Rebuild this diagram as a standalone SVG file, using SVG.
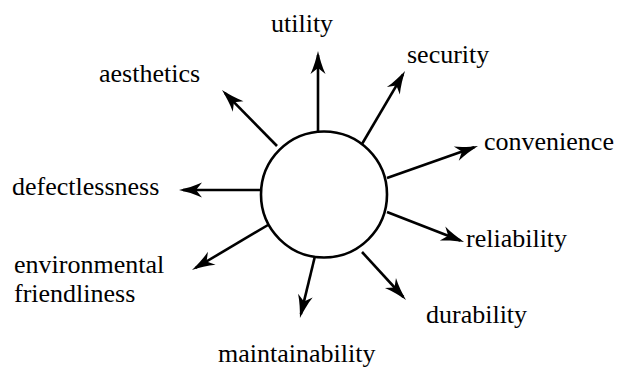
<svg xmlns="http://www.w3.org/2000/svg" width="618" height="367" viewBox="0 0 618 367">
<style>
.lbl{font-family:"Liberation Serif","Times New Roman",serif;font-size:26px;fill:#000}
</style>
<defs>
<marker id="ah" markerUnits="userSpaceOnUse" markerWidth="30" markerHeight="30" refX="19" refY="0" orient="auto" overflow="visible">
<path d="M23,0 C16,-1.6 7,-4.2 0,-7.5 L6,0 L0,7.5 C7,4.2 16,1.6 23,0 Z" fill="#000"/>
</marker>
</defs>
<rect width="618" height="367" fill="#fff"/>
<g id="center"><circle cx="324" cy="194.5" r="63" fill="#fff" stroke="#000" stroke-width="2.6"/></g>
<g id="connectors" stroke="#000" stroke-width="2.6" fill="none" marker-end="url(#ah)">
<line x1="318" y1="131" x2="318" y2="55"/>
<line x1="362" y1="144" x2="403" y2="74.4"/>
<line x1="277" y1="146" x2="224.8" y2="92.9"/>
<line x1="387" y1="178" x2="474.2" y2="147.3"/>
<line x1="260" y1="190" x2="183" y2="190"/>
<line x1="268" y1="225" x2="195.4" y2="268"/>
<line x1="315" y1="256" x2="300.9" y2="314.1"/>
<line x1="387" y1="212" x2="460.3" y2="240.5"/>
<line x1="362" y1="252" x2="403.3" y2="297"/>
</g>
<g id="utility"><text class="lbl" x="271" y="32">utility</text></g>
<g id="security"><text class="lbl" x="407" y="63">security</text></g>
<g id="aesthetics"><text class="lbl" x="99" y="82">aesthetics</text></g>
<g id="convenience"><text class="lbl" x="484" y="150">convenience</text></g>
<g id="defectlessness"><text class="lbl" x="12" y="195">defectlessness</text></g>
<g id="environmental"><text class="lbl" x="14" y="273">environmental</text><text class="lbl" x="14" y="302">friendliness</text></g>
<g id="maintainability"><text class="lbl" x="218" y="362">maintainability</text></g>
<g id="reliability"><text class="lbl" x="466" y="247">reliability</text></g>
<g id="durability"><text class="lbl" x="426" y="323">durability</text></g>
</svg>
